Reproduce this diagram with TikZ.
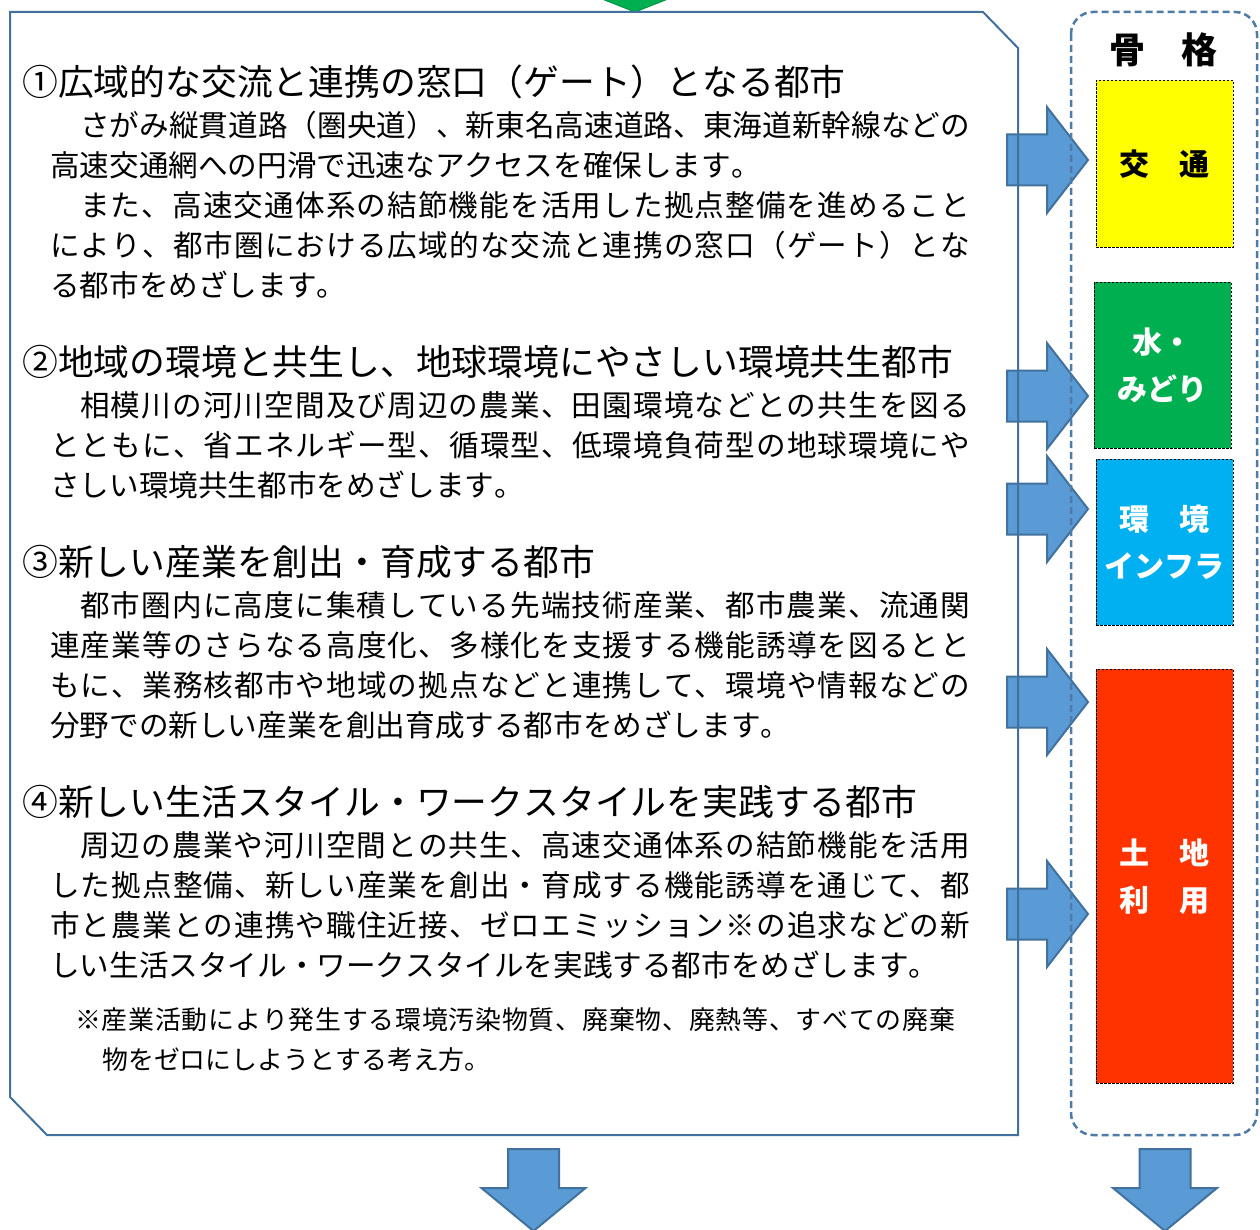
\documentclass[tikz,border=0pt]{standalone}
\usepackage{fontspec}
\setmainfont{Noto Sans CJK JP}[Kerning=Off]
\definecolor{boxline}{HTML}{41719C}
\definecolor{arrowfill}{HTML}{5B9BD5}
\definecolor{dashline}{HTML}{4F7BA8}
\definecolor{topgreen}{HTML}{00B050}
\definecolor{yelbox}{HTML}{FFFF00}
\definecolor{grnbox}{HTML}{00B050}
\definecolor{cyanbox}{HTML}{00B0F0}
\definecolor{redbox}{HTML}{FF3300}
% justified line: spread characters over a given width
\def\jspStop{\jspStop}
\def\jspA#1{\ifx#1\jspStop\else#1\hskip0pt plus 1fil\expandafter\jspA\fi}
\newcommand\jfull[2]{\hbox to #1pt{\jspA#2\jspStop\unskip}}
\tikzset{
  blockarrow/.style={fill=arrowfill, draw=boxline, line width=2pt, line join=miter},
  mainframe/.style={draw=boxline, line width=2pt},
  skelframe/.style={draw=dashline, line width=2.5pt, dash pattern=on 7pt off 4pt, rounded corners=22pt},
  catbox/.style={draw=black, line width=0.8pt, dash pattern=on 2.5pt off 1.5pt, minimum width=137pt, inner sep=0pt, align=center, font=\fontsize{30}{47}\selectfont\bfseries},
  headtext/.style={anchor=base west, inner sep=0pt, font=\fontsize{35.8}{40}\selectfont},
  bodytext/.style={anchor=base west, inner sep=0pt, font=\fontsize{29.6}{36}\selectfont},
  notetext/.style={anchor=base west, inner sep=0pt, font=\fontsize{25.9}{30}\selectfont},
}
\newcommand\rblock[1]{%
  \draw[blockarrow] (1007,#1-25.5) -- (1047,#1-25.5) -- (1047,#1-53) -- (1088,#1)
    -- (1047,#1+53) -- (1047,#1+25.5) -- (1007,#1+25.5) -- cycle;}
\newcommand\dblock[1]{%
  \draw[blockarrow] (#1-25.5,1149) -- (#1+25.5,1149) -- (#1+25.5,1188) -- (#1+52,1188)
    -- (#1,1231) -- (#1-52,1188) -- (#1-25.5,1188) -- cycle;}
\begin{document}
\begin{tikzpicture}[x=1pt,y=-1pt]
\useasboundingbox (0,0) rectangle (1260,1230);
\fill[white] (0,0) rectangle (1260,1230);

% top green arrow tip
\draw[fill=topgreen, draw=topgreen!85!black, line width=1pt] (597,-3) -- (673,-3) -- (635,12) -- cycle;

% category boxes
\node[catbox, fill=yelbox, text=black, minimum height=167pt, anchor=north west] (kotsu) at (1096,80) {交　通};
\node[catbox, fill=grnbox, text=white, minimum height=166pt, anchor=north west] (midori) at (1094,282) {水・\\みどり};
\node[catbox, fill=cyanbox, text=white, minimum height=166pt, anchor=north west] (infra) at (1096,459) {環　境\\インフラ};
\node[catbox, fill=redbox, text=white, minimum height=414pt, anchor=north west] (tochi) at (1096,669) {土　地\\利　用};

\node[font=\fontsize{36}{40}\selectfont\bfseries, inner sep=0pt] (kokaku) at (1163,50) {骨　格};

% right block arrows
\rblock{160}
\rblock{396}
\rblock{509}
\rblock{702}
\rblock{914}

% bottom arrows
\dblock{533.5}
\dblock{1165}

% frames
\draw[mainframe] (10,12) -- (983,12) -- (1018,48) -- (1018,1135) -- (47,1135) -- (10,1097) -- cycle;
\draw[skelframe] (1071,12) rectangle (1257,1135);

% headings
\node[headtext] (h1) at (22,95.6) {①広域的な交流と連携の窓口（ゲート）となる都市};
\node[headtext] (h2) at (22,375.6) {②地域の環境と共生し、地球環境にやさしい環境共生都市};
\node[headtext] (h3) at (22,575.6) {③新しい産業を創出・育成する都市};
\node[headtext] (h4) at (22,815.6) {④新しい生活スタイル・ワークスタイルを実践する都市};

% section 1
\node[bodytext] (a1) at (80,136.3) {\jfull{890}{さがみ縦貫道路（圏央道）、新東名高速道路、東海道新幹線などの}};
\node[bodytext] (a2) at (50,176.3) {高速交通網への円滑で迅速なアクセスを確保します。};
\node[bodytext] (a3) at (80,216.3) {\jfull{890}{また、高速交通体系の結節機能を活用した拠点整備を進めること}};
\node[bodytext] (a4) at (50,256.3) {\jfull{920}{により、都市圏における広域的な交流と連携の窓口（ゲート）とな}};
\node[bodytext] (a5) at (50,296.3) {る都市をめざします。};

% section 2
\node[bodytext] (b1) at (80,416.3) {\jfull{890}{相模川の河川空間及び周辺の農業、田園環境などとの共生を図る}};
\node[bodytext] (b2) at (50,456.3) {\jfull{920}{とともに、省エネルギー型、循環型、低環境負荷型の地球環境にや}};
\node[bodytext] (b3) at (50,496.3) {さしい環境共生都市をめざします。};

% section 3
\node[bodytext] (c1) at (80,616.3) {\jfull{890}{都市圏内に高度に集積している先端技術産業、都市農業、流通関}};
\node[bodytext] (c2) at (50,656.3) {\jfull{920}{連産業等のさらなる高度化、多様化を支援する機能誘導を図るとと}};
\node[bodytext] (c3) at (50,696.3) {\jfull{920}{もに、業務核都市や地域の拠点などと連携して、環境や情報などの}};
\node[bodytext] (c4) at (50,736.3) {分野での新しい産業を創出育成する都市をめざします。};

% section 4
\node[bodytext] (d1) at (80,856.3) {\jfull{890}{周辺の農業や河川空間との共生、高速交通体系の結節機能を活用}};
\node[bodytext] (d2) at (50,896.3) {\jfull{920}{した拠点整備、新しい産業を創出・育成する機能誘導を通じて、都}};
\node[bodytext] (d3) at (50,936.3) {\jfull{920}{市と農業との連携や職住近接、ゼロエミッション※の追求などの新}};
\node[bodytext] (d4) at (50,976.3) {しい生活スタイル・ワークスタイルを実践する都市をめざします。};

% footnote
\node[notetext] (n1) at (75,1029.8) {\jfull{880}{※産業活動により発生する環境汚染物質、廃棄物、廃熱等、すべての廃棄}};
\node[notetext] (n2) at (102,1069.8) {物をゼロにしようとする考え方。};
\end{tikzpicture}
\end{document}
